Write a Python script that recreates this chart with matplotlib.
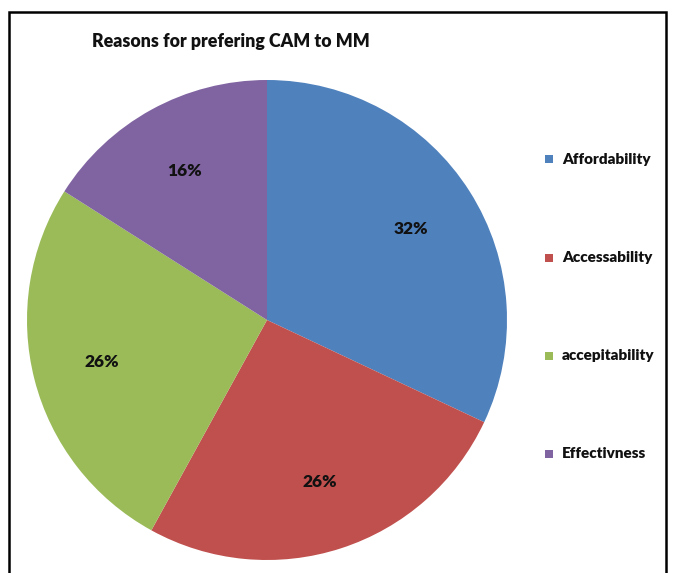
import matplotlib
matplotlib.use("Agg")
import matplotlib.pyplot as plt
from matplotlib.patches import Rectangle

title = "Reasons for prefering CAM to MM"
categories = ["Affordability", "Accessability", "accepitability", "Effectivness"]
values = [32, 26, 26, 16]
colors = ["#4F81BD", "#C0504D", "#9BBB59", "#8064A2"]

W, H = 673, 573
fig = plt.figure(figsize=(W / 100, H / 100), dpi=100)
ax = fig.add_axes([0, 0, 1, 1])

font = "Lato"

wedges, texts, autotexts = ax.pie(
    values, colors=colors, startangle=90, counterclock=False,
    center=(267, H - 320), radius=240, autopct="%d%%", pctdistance=0.71,
    wedgeprops=dict(linewidth=0), frame=True,
    textprops=dict(fontsize=12.5, fontweight="heavy", family=font, color="#111111"),
)
ax.set_xlim(0, W)
ax.set_ylim(0, H)
ax.set_aspect("auto")
ax.axis("off")

# frame
fig.patches.append(Rectangle((9 / W, -0.05), (666 - 9) / W, (H - 12) / H + 0.05,
                             transform=fig.transFigure, fill=False,
                             edgecolor="black", linewidth=1.8))

fig.text(92 / W, 1 - 42 / H, title, fontsize=12.8, fontweight="heavy", family=font,
         va="center", ha="left", color="#111111")

leg_y = [159, 258, 356, 454]
for cat, col, y in zip(categories, colors, leg_y):
    fig.patches.append(Rectangle((545 / W, 1 - (y + 4) / H), 8 / W, 8 / H,
                                 transform=fig.transFigure, facecolor=col,
                                 edgecolor="none"))
    fig.text(562 / W, 1 - y / H, cat, fontsize=11, fontweight="heavy", family=font,
             va="center", ha="left", color="#111111")

fig.savefig("out.png", dpi=100, facecolor="white")
